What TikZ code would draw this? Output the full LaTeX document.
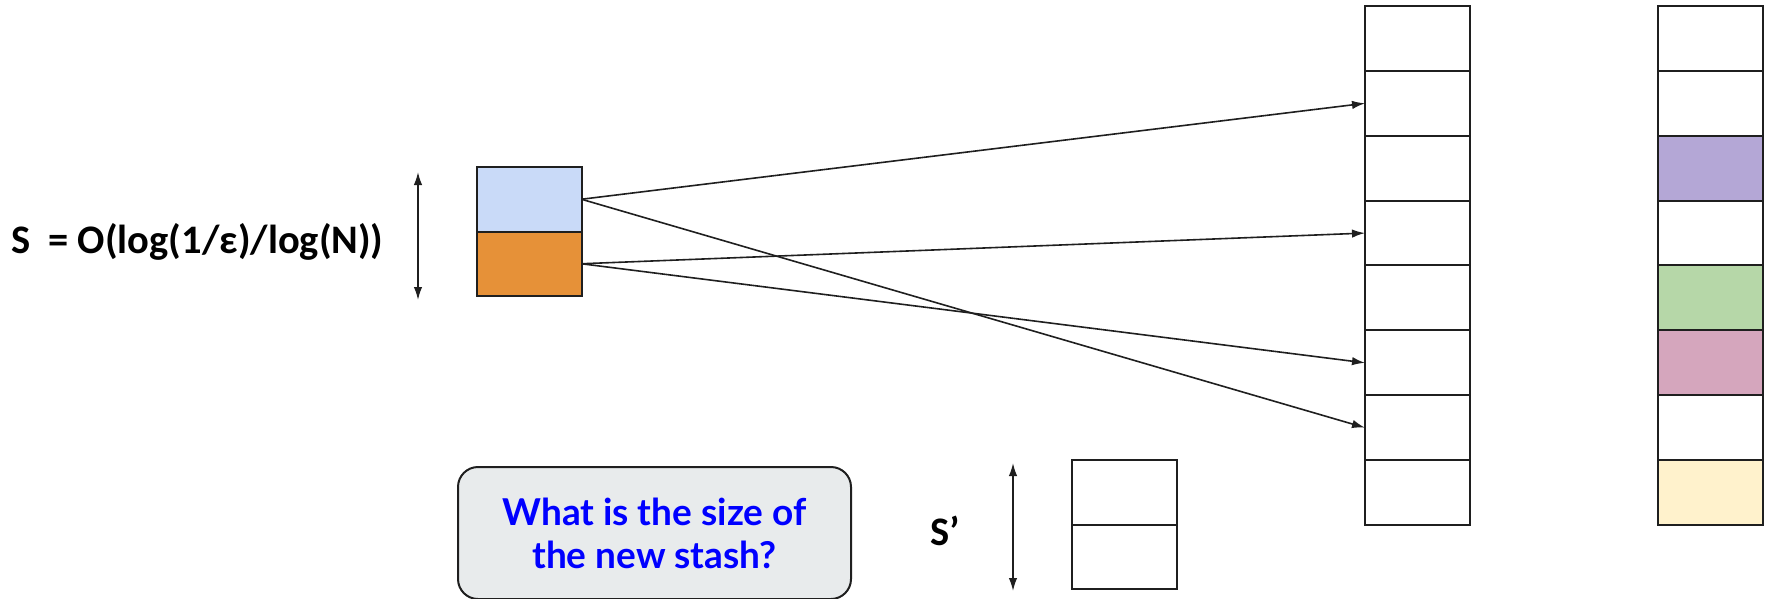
\documentclass[tikz,border=0pt]{standalone}
\usepackage{fontspec}
\setmainfont{Carlito}
\newfontfamily\lato{Lato}
\usetikzlibrary{arrows.meta}
\definecolor{cblue}{HTML}{C9DAF8}
\definecolor{corange}{HTML}{E69138}
\definecolor{cpurple}{HTML}{B4A7D6}
\definecolor{cgreen}{HTML}{B6D7A8}
\definecolor{cpink}{HTML}{D5A6BD}
\definecolor{cyellow}{HTML}{FFF2CC}
\definecolor{cgray}{HTML}{E8EBEC}
\definecolor{cqblue}{HTML}{0000FF}
\definecolor{cline}{HTML}{1F1F1F}
\tikzset{
  cell/.style={draw=cline, line width=2pt, minimum width=105pt, minimum height=64.9pt, inner sep=0pt, outer sep=0pt},
  conn/.style={draw=cline, line width=1.6pt, -{Latex[length=13pt,width=8.5pt]}},
  dbl/.style={draw=cline, line width=1.6pt, {Latex[length=13pt,width=8.5pt]}-{Latex[length=13pt,width=8.5pt]}},
  bigtxt/.style={font=\fontsize{40.5}{46}\selectfont\bfseries, inner sep=0pt},
  qbox/.style={draw=cline, line width=2pt, fill=cgray, rounded corners=20pt, minimum width=393pt, minimum height=132pt, inner sep=0pt, align=center, text=cqblue, font=\lato\fontsize{37}{43}\selectfont\bfseries}
}
\begin{document}
\begin{tikzpicture}[x=1pt,y=-1pt]
\useasboundingbox (0,0) rectangle (1769,598);
% middle column
\foreach \i in {1,...,8} {
  \node[cell, fill=white] (m\i) at (1417.5, {6+64.875*(\i-0.5)}) {};
}
% right column
\foreach \i/\c in {1/white,2/white,3/cpurple,4/white,5/cgreen,6/cpink,7/white,8/cyellow} {
  \node[cell, fill=\c] (r\i) at (1710.5, {6+64.875*(\i-0.5)}) {};
}
% stash
\node[cell, fill=cblue, minimum height=64.5pt] (sa) at (529, 199.25) {};
\node[cell, fill=corange, minimum height=64.5pt] (sb) at (529, 263.75) {};
% connectors
\draw[conn] (sa.east) -- (m2.west);
\draw[conn] (sa.east) -- (m7.west);
\draw[conn] (sb.east) -- (m4.west);
\draw[conn] (sb.east) -- (m6.west);
% label S
\node[bigtxt, anchor=west] (stxt) at (11, 242) {S\hspace{0.45em}= O(log(1/ε)/log(N))};
\coordinate (la1) at (418, 172);
\coordinate (la2) at (418, 300);
\draw[dbl] (la1) -- (la2);
% new stash
\node[cell, fill=white, minimum height=64.5pt] (na) at (1124.5, 492.25) {};
\node[cell, fill=white, minimum height=64.5pt] (nb) at (1124.5, 556.75) {};
\coordinate (ra1) at (1013, 463);
\coordinate (ra2) at (1013, 591);
\draw[dbl] (ra1) -- (ra2);
\node[bigtxt] (sp) at (945, 531) {S’};
% question box
\node[qbox] (q) at (654.5, 533) {What is the size of\\the new stash?};
\end{tikzpicture}
\end{document}
